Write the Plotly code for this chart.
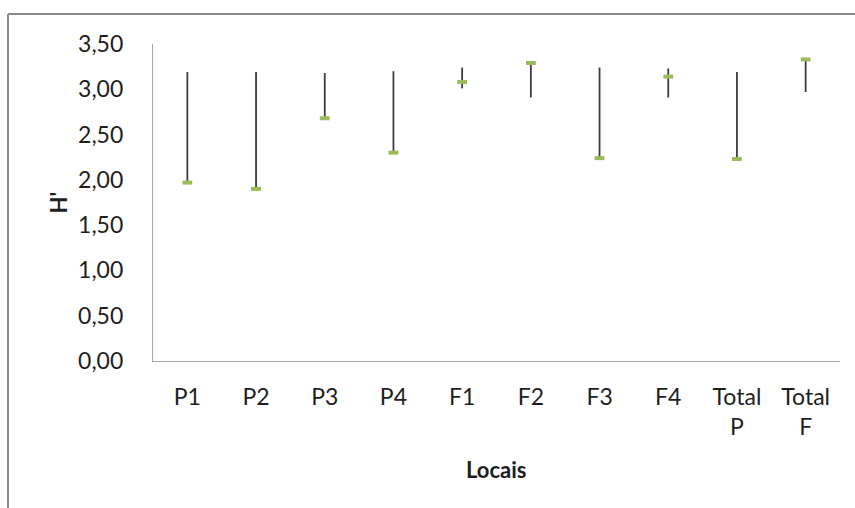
import plotly.graph_objects as go

# Shannon diversity (H') per site: high-low range and observed value
locais = ["P1", "P2", "P3", "P4", "F1", "F2", "F3", "F4", "Total P", "Total F"]
h_max = [3.19, 3.19, 3.18, 3.20, 3.24, 3.29, 3.24, 3.23, 3.19, 3.33]
h_min = [1.97, 1.90, 2.68, 2.30, 3.01, 2.91, 2.24, 2.91, 2.23, 2.97]
h_obs = [1.97, 1.90, 2.68, 2.30, 3.08, 3.29, 2.24, 3.14, 2.23, 3.33]
y_ticks = [0, 0.5, 1.0, 1.5, 2.0, 2.5, 3.0, 3.5]

W, H = 855, 508
L, R, T, B = 153, 15, 44, 147
PW, PH = W - L - R, H - T - B

FONT = "Lato"
TXT = "#1e1e1e"

def px_x(p):
    return (p - L) / PW

def px_y(p):
    return (H - B - p) / PH

# vertical high-low segments, one per category
seg_x, seg_y = [], []
for i, (lo, hi) in enumerate(zip(h_min, h_max)):
    seg_x += [i, i, None]
    seg_y += [lo, hi, None]

fig = go.Figure()
fig.add_trace(go.Scatter(
    x=seg_x, y=seg_y, mode="lines",
    line=dict(color="#3c3c3c", width=1.8),
    hoverinfo="skip", showlegend=False,
))
fig.add_trace(go.Scatter(
    x=list(range(len(locais))), y=h_obs, mode="markers",
    marker=dict(symbol="line-ew", size=7, color="#9BBB59",
                line=dict(color="#9BBB59", width=4)),
    showlegend=False,
))

fig.update_layout(
    width=W, height=H,
    margin=dict(l=L, r=R, t=T, b=B, pad=0),
    paper_bgcolor="white", plot_bgcolor="white",
    separators=",.",
    font=dict(family=FONT, size=22, color=TXT),
    xaxis=dict(
        range=[-0.5, len(locais) - 0.5],
        tickmode="array",
        tickvals=list(range(len(locais))),
        ticktext=[c.replace(" ", "<br>") for c in locais],
        showgrid=False, zeroline=False,
        showline=True, linecolor="#a6a6a6", linewidth=1.2,
        ticks="", ticklabelstandoff=15,
        tickfont=dict(family=FONT, size=23, color=TXT),
    ),
    yaxis=dict(
        range=[0, 3.5],
        tickmode="array", tickvals=y_ticks,
        tickformat=".2f",
        showgrid=False, zeroline=False,
        showline=True, linecolor="#a6a6a6", linewidth=1.2,
        ticks="", ticklabelstandoff=24,
        tickfont=dict(family=FONT, size=23, color=TXT),
    ),
    annotations=[
        dict(text="<b>H'</b>", xref="paper", yref="paper",
             x=px_x(58), y=0.5, textangle=-90, showarrow=False,
             xanchor="center", yanchor="middle",
             font=dict(family=FONT, size=22, color=TXT)),
        dict(text="<b>Locais</b>", xref="paper", yref="paper",
             x=0.5, y=px_y(469), showarrow=False,
             xanchor="center", yanchor="middle",
             font=dict(family=FONT, size=22, color=TXT)),
    ],
    shapes=[
        # chart-area frame (top and left edges)
        dict(type="line", xref="paper", yref="paper",
             x0=px_x(8), x1=px_x(W + 5), y0=px_y(14), y1=px_y(14),
             line=dict(color="#8a8a8a", width=2)),
        dict(type="line", xref="paper", yref="paper",
             x0=px_x(8), x1=px_x(8), y0=px_y(14), y1=px_y(H + 5),
             line=dict(color="#8a8a8a", width=2)),
    ],
)

fig.write_html("out.html")
